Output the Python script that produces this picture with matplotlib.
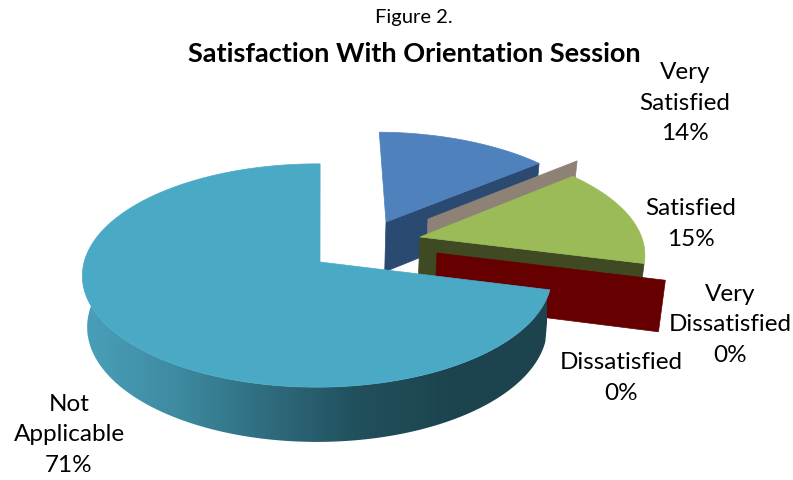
import numpy as np
import matplotlib
matplotlib.use("Agg")
import matplotlib.pyplot as plt
from matplotlib.colors import LinearSegmentedColormap
from matplotlib.patches import Polygon

# data, clockwise from twelve o'clock
CATEGORIES = ["Very\nSatisfied", "Dissatisfied", "Satisfied", "Very\nDissatisfied", "Not\nApplicable"]
PERCENT = [14, 0, 15, 0, 71]
TOP_COLORS = ["#4F81BD", "#8E8276", "#9BBB59", "#660000", "#4AAAC5"]
SIDE_COLORS = ["#2A4A72", "#8E8276", "#404A22", "#660000", None]
APEX_PX = [(386, 223), (428, 220), (420, 238), (437, 254), (320, 263)]
LABEL_PX = [(685, 103), (621, 378), (691, 224), (730, 325), (69, 435)]

TITLE = "Satisfaction With Orientation Session"
SUPTITLE = "Figure 2."

# ─── Projection of the pie plane onto the picture ─────────────────────────────
CX, CY = 321, 263
RX, RY = 233, 110
P_V, Q_U = 0.121, 0.012


def project(u, v):
    den = 1 + P_V * v + Q_U * u
    return CX + RX * u / den, CY - RY * v / den


def unproject(x, y):
    xn, yn = (x - CX) / RX, (CY - y) / RY
    den = 1 / (1 - P_V * yn - Q_U * xn)
    return xn * den, yn * den


def to_base(x, y):
    # lower face of the disc
    return CX + (x - CX) * 0.98, CY + (y - CY) * 1.03 + 51


def rim(u0, v0, a0, a1, n=200):
    ang = np.radians(np.linspace(a0, a1, n))
    return project(u0 + np.sin(ang), v0 + np.cos(ang))


fig = plt.figure(figsize=(7.93, 4.81), dpi=100)
ax = fig.add_axes([0, 0, 1, 1])

edges = np.cumsum([0] + PERCENT) * 3.6
for i, pct in enumerate(PERCENT):
    a0, a1 = edges[i], edges[i + 1]
    u0, v0 = unproject(*APEX_PX[i])
    ax_, ay_ = project(u0, v0)
    bx_, by_ = to_base(ax_, ay_)
    rx_, ry_ = rim(u0, v0, a0, a1)
    z = 2 + i

    if SIDE_COLORS[i] is not None:
        # cut face along the clockwise edge of the slice
        tx, ty = rx_[-1], ry_[-1]
        btx, bty = to_base(tx, ty)
        ax.add_patch(Polygon([(ax_, ay_), (tx, ty), (btx, bty), (bx_, by_)],
                             fc=SIDE_COLORS[i], ec=SIDE_COLORS[i], lw=0.5, zorder=z))
    else:
        # outer wall of the big slice, shaded from left to right
        brx, bry = to_base(rx_, ry_)
        band = Polygon(np.r_[np.c_[rx_, ry_], np.c_[brx, bry][::-1]], fc="none", ec="none", zorder=z)
        ax.add_patch(band)
        shade = LinearSegmentedColormap.from_list(
            "wall", ["#4AA0B9", "#3E8BA2", "#2F6C7E", "#214F5C", "#1C444F", "#1C434E"])
        img = ax.imshow(np.linspace(0, 1, 256)[None, :], extent=(81, 547, 445, 280),
                        cmap=shade, aspect="auto", zorder=z, interpolation="bilinear")
        img.set_clip_path(band)

    if pct > 0:
        ax.add_patch(Polygon(np.r_[[(ax_, ay_)], np.c_[rx_, ry_]],
                             fc=TOP_COLORS[i], ec=TOP_COLORS[i], lw=0.5, zorder=z + 0.5))

for name, pct, (lx, ly) in zip(CATEGORIES, PERCENT, LABEL_PX):
    ax.text(lx, ly, f"{name}\n{pct}%", ha="center", va="center", fontsize=17.5,
            family="Lato", color="black", linespacing=1.55, zorder=20)

ax.text(414, 17, SUPTITLE, ha="center", va="center", fontsize=14.5, family="Lato", color="black", zorder=20)
ax.text(414, 54, TITLE, ha="center", va="center", fontsize=19.5, family="Lato",
        fontweight="bold", color="black", zorder=20)

ax.set_xlim(0, 793)
ax.set_ylim(481, 0)
ax.axis("off")

fig.savefig("out.png", dpi=100, facecolor="white")
